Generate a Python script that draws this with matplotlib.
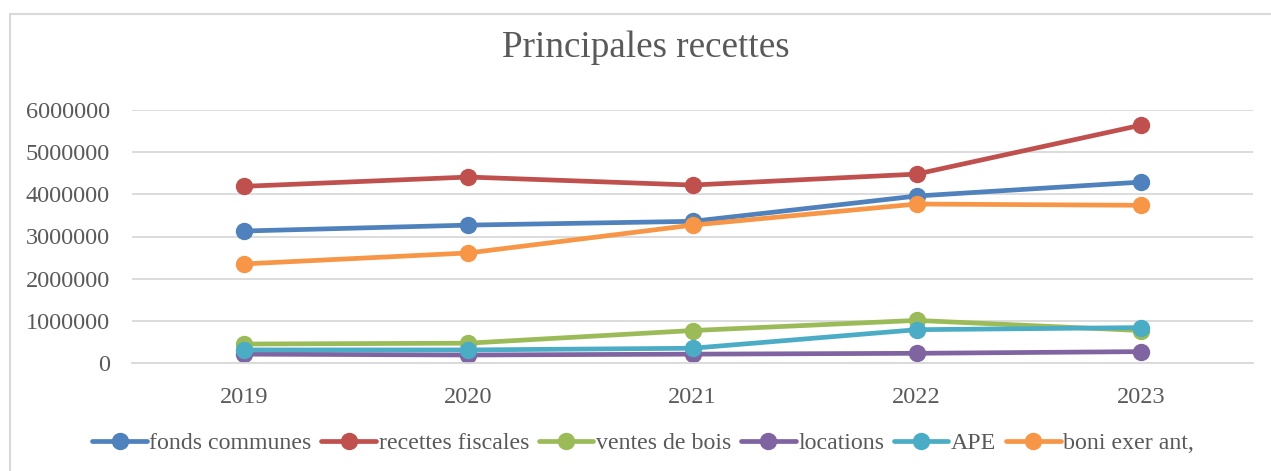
import numpy as np
import matplotlib.pyplot as plt
from matplotlib.patches import Rectangle

years = ['2019', '2020', '2021', '2022', '2023']
fonds_communes = [3130000, 3270000, 3360000, 3960000, 4290000]
recettes_fiscales = [4190000, 4410000, 4220000, 4480000, 5640000]
ventes_de_bois = [450000, 470000, 770000, 1010000, 770000]
locations = [210000, 190000, 210000, 230000, 270000]
ape = [310000, 310000, 350000, 790000, 840000]
boni_exer_ant = [2350000, 2610000, 3270000, 3770000, 3740000]

series = [
    ('fonds communes', fonds_communes, '#4F81BD'),
    ('recettes fiscales', recettes_fiscales, '#C0504D'),
    ('ventes de bois', ventes_de_bois, '#9BBB59'),
    ('locations', locations, '#8064A2'),
    ('APE', ape, '#4BACC6'),
    ('boni exer ant,', boni_exer_ant, '#F79646'),
]

plt.rcParams['font.family'] = ['Liberation Serif', 'DejaVu Serif']
text_col = '#595959'

fig = plt.figure(figsize=(12.71, 4.71), dpi=100)
ax = fig.add_axes([132 / 1271, 1 - 363 / 471, (1253 - 132) / 1271, (363 - 110) / 471])

x = np.arange(len(years))
for name, vals, col in series:
    ax.plot(x, vals, color=col, lw=3.4, marker='o', ms=11.5, label=name,
            solid_capstyle='round')

ax.set_xlim(-0.5, len(years) - 0.5)
ax.set_ylim(0, 6000000)
ax.set_yticks(np.arange(0, 6000001, 1000000))
ax.set_yticklabels([str(v) for v in range(0, 6000001, 1000000)])
ax.set_xticks(x)
ax.set_xticklabels(years)
ax.grid(axis='y', color='#D9D9D9', lw=1.3)
ax.set_axisbelow(True)
for s in ['top', 'right', 'left']:
    ax.spines[s].set_visible(False)
ax.spines['bottom'].set_color('#D9D9D9')
ax.spines['bottom'].set_linewidth(1.3)
ax.tick_params(axis='both', length=0, labelsize=17.5, colors=text_col)
ax.tick_params(axis='y', pad=16)
ax.tick_params(axis='x', pad=17)

fig.text(646 / 1271, 1 - 48 / 471, 'Principales recettes', ha='center', va='center',
         fontsize=26.7, color=text_col)

fig.legend(loc='center', bbox_to_anchor=(643 / 1271, 1 - 443 / 471), ncol=6, frameon=False,
           fontsize=17.2, handlelength=2.3, handletextpad=0.1, columnspacing=0.4,
           labelcolor=text_col)

fig.patches.append(Rectangle((10 / 1271, -0.1), 1.2, 1 - 14 / 471 + 0.1, transform=fig.transFigure,
                             fill=False, edgecolor='#D9D9D9', lw=1.5))

fig.savefig('out.png', dpi=100)
